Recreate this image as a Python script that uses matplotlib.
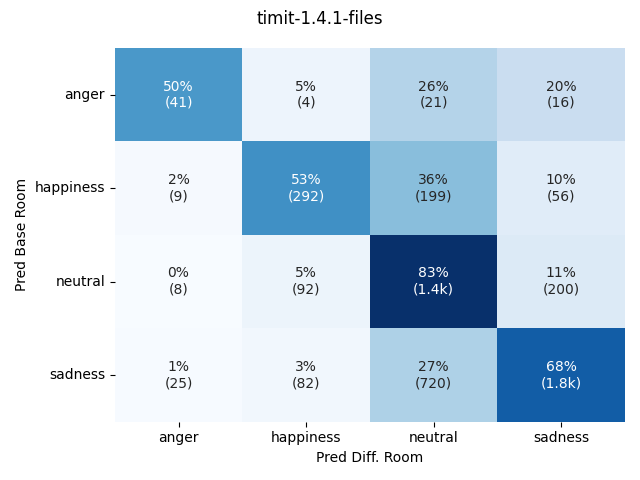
import numpy as np
import matplotlib
matplotlib.use('Agg')
import matplotlib.pyplot as plt
import seaborn as sns

labels = ['anger', 'happiness', 'neutral', 'sadness']
row_anger = [41, 4, 21, 16]
row_happiness = [9, 292, 199, 56]
row_neutral = [8, 92, 1449, 200]
row_sadness = [25, 82, 720, 1795]

counts = np.array([row_anger, row_happiness, row_neutral, row_sadness])
pct = counts / counts.sum(axis=1, keepdims=True)


def fmt(n):
    if n >= 1000:
        return f'{n / 1000:.1f}k'
    return str(n)


annot = [[f'{p:.0%}\n({fmt(c)})' for p, c in zip(pr, cr)] for pr, cr in zip(pct, counts)]

fig, ax = plt.subplots(figsize=(6.4, 4.8))
sns.heatmap(pct, annot=annot, fmt='', cmap='Blues', cbar=False,
            xticklabels=labels, yticklabels=labels, ax=ax)
ax.set_yticklabels(labels, rotation=0)
ax.set_xlabel('Pred Diff. Room')
ax.set_ylabel('Pred Base Room')
fig.suptitle('timit-1.4.1-files')
fig.tight_layout()
fig.savefig('out.png', dpi=100)
